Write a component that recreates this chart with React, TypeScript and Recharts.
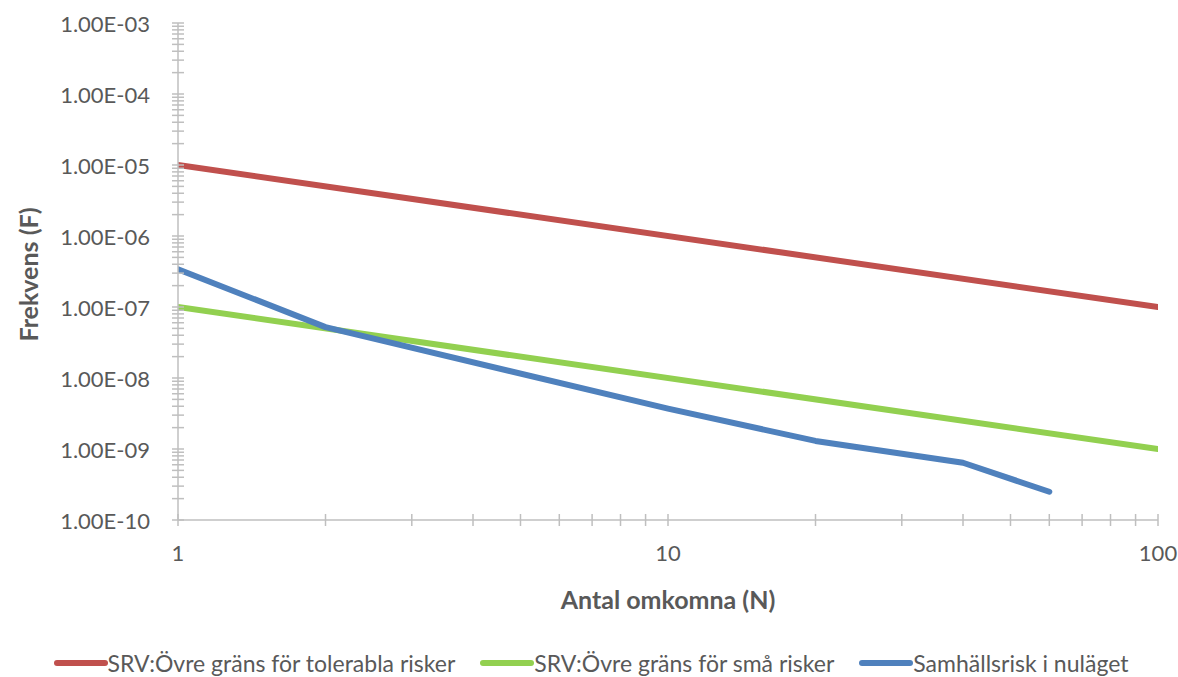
import React from 'react';
import { LineChart, Line, XAxis, YAxis, Legend, Label } from 'recharts';

// ---- data ----
const tolerableN = [1, 100];
const tolerableF = [1e-5, 1e-7];
const smallN = [1, 100];
const smallF = [1e-7, 1e-9];
const currentN = [1, 2, 10, 20, 40, 60];
const currentF = [3.4e-7, 5.2e-8, 3.7e-9, 1.3e-9, 6.4e-10, 2.5e-10];

const xMajorTicks = [1, 10, 100];
const yMajorTicks = [1e-10, 1e-9, 1e-8, 1e-7, 1e-6, 1e-5, 1e-4, 1e-3];

const seriesNames = [
  'SRV:Övre gräns för tolerabla risker',
  'SRV:Övre gräns för små risker',
  'Samhällsrisk i nuläget',
];
const seriesColors = ['#C0504D', '#92D050', '#4F81BD'];

const xTitle = 'Antal omkomna (N)';
const yTitle = 'Frekvens (F)';

// ---- derived tables ----
const toRows = (ns: number[], fs: number[]) => ns.map((n, i) => ({ n, f: fs[i] }));
const seriesData = [
  toRows(tolerableN, tolerableF),
  toRows(smallN, smallF),
  toRows(currentN, currentF),
];

const withMinors = (majors: number[]) => {
  const out: number[] = [];
  majors.forEach((m, i) => {
    if (i === majors.length - 1) {
      out.push(m);
    } else {
      for (let k = 1; k <= 9; k++) out.push(m * k);
    }
  });
  return out;
};
const xTicks = withMinors(xMajorTicks);
const yTicks = withMinors(yMajorTicks);

const isMajor = (v: number) => {
  const l = Math.log10(v);
  return Math.abs(l - Math.round(l)) < 1e-6;
};
const fmtY = (v: number) => {
  const e = Math.round(Math.log10(v));
  return `1.00E${e < 0 ? '-' : '+'}${String(Math.abs(e)).padStart(2, '0')}`;
};

const FONT = 'Lato, "Open Sans", sans-serif';
const TEXT = '#595959';
const AXIS = '#BFBFBF';

const XTick = (props: any) => {
  const { x, y, payload } = props;
  const v = payload.value;
  return (
    <g>
      <line x1={x} x2={x} y1={y - 6} y2={y + 6} stroke={AXIS} strokeWidth={1.5} />
      {isMajor(v) && (
        <text x={x} y={y + 32} textAnchor="middle" dominantBaseline="central" fill={TEXT} fontSize={22} fontFamily={FONT}>
          {String(Math.round(v))}
        </text>
      )}
    </g>
  );
};

const YTick = (props: any) => {
  const { x, y, payload } = props;
  const v = payload.value;
  return (
    <g>
      <line x1={x - 6} x2={x + 6} y1={y} y2={y} stroke={AXIS} strokeWidth={1.5} />
      {isMajor(v) && (
        <text x={x - 28} y={y} textAnchor="end" dominantBaseline="central" fill={TEXT} fontSize={22} fontFamily={FONT}>
          {fmtY(v)}
        </text>
      )}
    </g>
  );
};

const renderLegend = () => (
  <div
    style={{
      height: 28,
      display: 'flex',
      justifyContent: 'center',
      alignItems: 'center',
      gap: 25,
      fontFamily: FONT,
      fontSize: 23,
      color: TEXT,
      paddingLeft: 16,
    }}
  >
    {seriesNames.map((name, i) => (
      <div key={name} style={{ display: 'flex', alignItems: 'center' }}>
        <svg width={54} height={10} style={{ display: 'block' }}>
          <line x1={3} x2={51} y1={5} y2={5} stroke={seriesColors[i]} strokeWidth={6} strokeLinecap="round" />
        </svg>
        <span style={{ whiteSpace: 'nowrap' }}>{name}</span>
      </div>
    ))}
  </div>
);

export default function App() {
  return (
    <div style={{ position: 'absolute', left: 0, top: 0 }}>
      <LineChart width={1178} height={677} margin={{ top: 23, right: 20, bottom: 0, left: 8 }}>
        <XAxis
          dataKey="n"
          type="number"
          scale="log"
          domain={[1, 100]}
          ticks={xTicks}
          interval={0}
          allowDataOverflow
          height={129}
          tickSize={0}
          tickMargin={0}
          tickLine={false}
          tick={<XTick />}
          axisLine={{ stroke: AXIS, strokeWidth: 1.5 }}
        >
          <Label
            content={(p: any) => {
              const vb = p.viewBox || {};
              return (
                <text
                  x={vb.x + vb.width / 2}
                  y={599}
                  textAnchor="middle"
                  dominantBaseline="central"
                  fill={TEXT}
                  fontSize={25}
                  fontWeight="bold"
                  fontFamily={FONT}
                >
                  {xTitle}
                </text>
              );
            }}
          />
        </XAxis>
        <YAxis
          type="number"
          scale="log"
          domain={[1e-10, 1e-3]}
          ticks={yTicks}
          interval={0}
          allowDataOverflow
          width={170}
          tickSize={0}
          tickMargin={0}
          tickLine={false}
          tick={<YTick />}
          axisLine={{ stroke: AXIS, strokeWidth: 1.5 }}
        >
          <Label
            content={(p: any) => {
              const vb = p.viewBox || {};
              const cx = 28;
              const cy = vb.y + vb.height / 2 + 3;
              return (
                <text
                  x={cx}
                  y={cy}
                  transform={`rotate(-90 ${cx} ${cy})`}
                  textAnchor="middle"
                  dominantBaseline="central"
                  fill={TEXT}
                  fontSize={25}
                  fontWeight="bold"
                  fontFamily={FONT}
                >
                  {yTitle}
                </text>
              );
            }}
          />
        </YAxis>
        <Legend verticalAlign="bottom" height={28} content={renderLegend} />
        {seriesData.map((d, i) => (
          <Line
            key={seriesNames[i]}
            data={d}
            dataKey="f"
            name={seriesNames[i]}
            type="linear"
            stroke={seriesColors[i]}
            strokeWidth={6}
            strokeLinecap="round"
            strokeLinejoin="round"
            dot={false}
            activeDot={false}
            isAnimationActive={false}
          />
        ))}
      </LineChart>
    </div>
  );
}
